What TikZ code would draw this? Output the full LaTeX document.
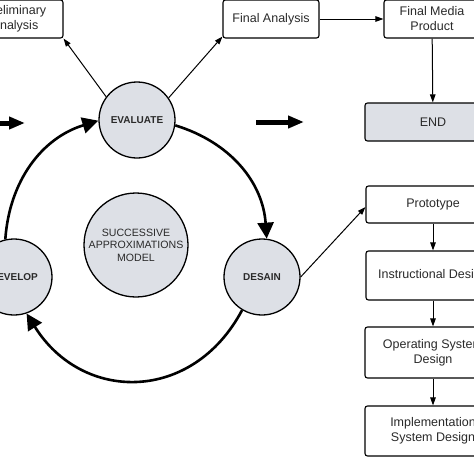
\documentclass[tikz,border=0pt]{standalone}
\usepackage{fontspec}
\setmainfont{Liberation Sans}
\usetikzlibrary{arrows.meta}
\definecolor{phasegray}{HTML}{DDE0E6}
\definecolor{textgray}{HTML}{2A2A2A}
\tikzset{
	phase/.style={circle,draw=black,line width=1.3pt,fill=phasegray,minimum size=76pt,inner sep=0pt,font=\fontsize{10}{11}\selectfont\bfseries,text=textgray},
	stagebox/.style={rectangle,rounded corners=2.5pt,draw=black,line width=1.1pt,fill=white,minimum width=96pt,minimum height=38pt,inner sep=0pt,align=center,font=\fontsize{12.5}{15}\selectfont,text=textgray},
	loopline/.style={line width=2.6pt,-{Triangle[length=16pt,width=16pt]}},
	thinline/.style={line width=1pt,-{Triangle[length=8pt,width=5.5pt]}},
	bigarrow/.style={line width=5pt,-{Triangle[length=16pt,width=12pt]}}
}
\begin{document}
\begin{tikzpicture}[x=1pt,y=1pt]
			\useasboundingbox (0,0) rectangle (474,-474);
			\clip (0,0) rectangle (474,-474);
			% the cycle
			\node[phase](evaluate) at (137,-120){EVALUATE};
			\node[phase](desain) at (262,-277){DESAIN};
			\node[phase](develop) at (14,-277){DEVELOP};
			\node[phase,minimum size=104pt,align=center,font=\fontsize{10.6}{12.5}\selectfont](model) at (136,-245){SUCCESSIVE\\APPROXIMATIONS\\MODEL};
			
			% boxes
			\node[stagebox](prelim) at (15,-19){Preliminary\\Analysis};
			\node[stagebox](finalan) at (271,-19){Final Analysis};
			\node[stagebox](media) at (432,-19){Final Media\\Product};
			\node[stagebox,minimum width=136pt,fill=phasegray](end) at (433,-122){END};
			\node[stagebox,minimum width=134pt,minimum height=37pt](proto) at (433,-204.5){Prototype};
			\node[stagebox,minimum width=134pt,minimum height=49pt](instr) at (433,-275.5){Instructional Design};
			\node[stagebox,minimum width=136pt,minimum height=51pt](opsys) at (433,-352.5){Operating System\\Design};
			\node[stagebox,minimum width=136pt,minimum height=50pt](impl) at (433,-431){Implementation\\System Design};
			
			\coordinate (l1) at (-5,-123);
			\coordinate (l2) at (25,-123);
			\coordinate (m1) at (256,-122);
			\coordinate (m2) at (304,-122);
			
			\draw[loopline](evaluate.-8) to[out=-17,in=94] (desain.83);
			\draw[loopline](desain.239) to[out=-118,in=-58,looseness=1.25] (develop.-71);
			\draw[loopline](develop.103) to[out=86,in=197] (evaluate.181);
			
			\draw[thinline](evaluate.143)--(prelim.south east);
			\draw[thinline](evaluate.35)--([yshift=2pt]finalan.south west);
			\draw[thinline](finalan)--(media);
			\draw[thinline](media)--(end);
			\draw[thinline](desain.east)--([yshift=-2.5pt]proto.west);
			\draw[thinline](proto)--(instr);
			\draw[thinline](instr)--(opsys);
			\draw[thinline](opsys)--(impl);
			
			\draw[bigarrow](l1)--(l2);
			\draw[bigarrow](m1)--(m2);
		\end{tikzpicture}
\end{document}
